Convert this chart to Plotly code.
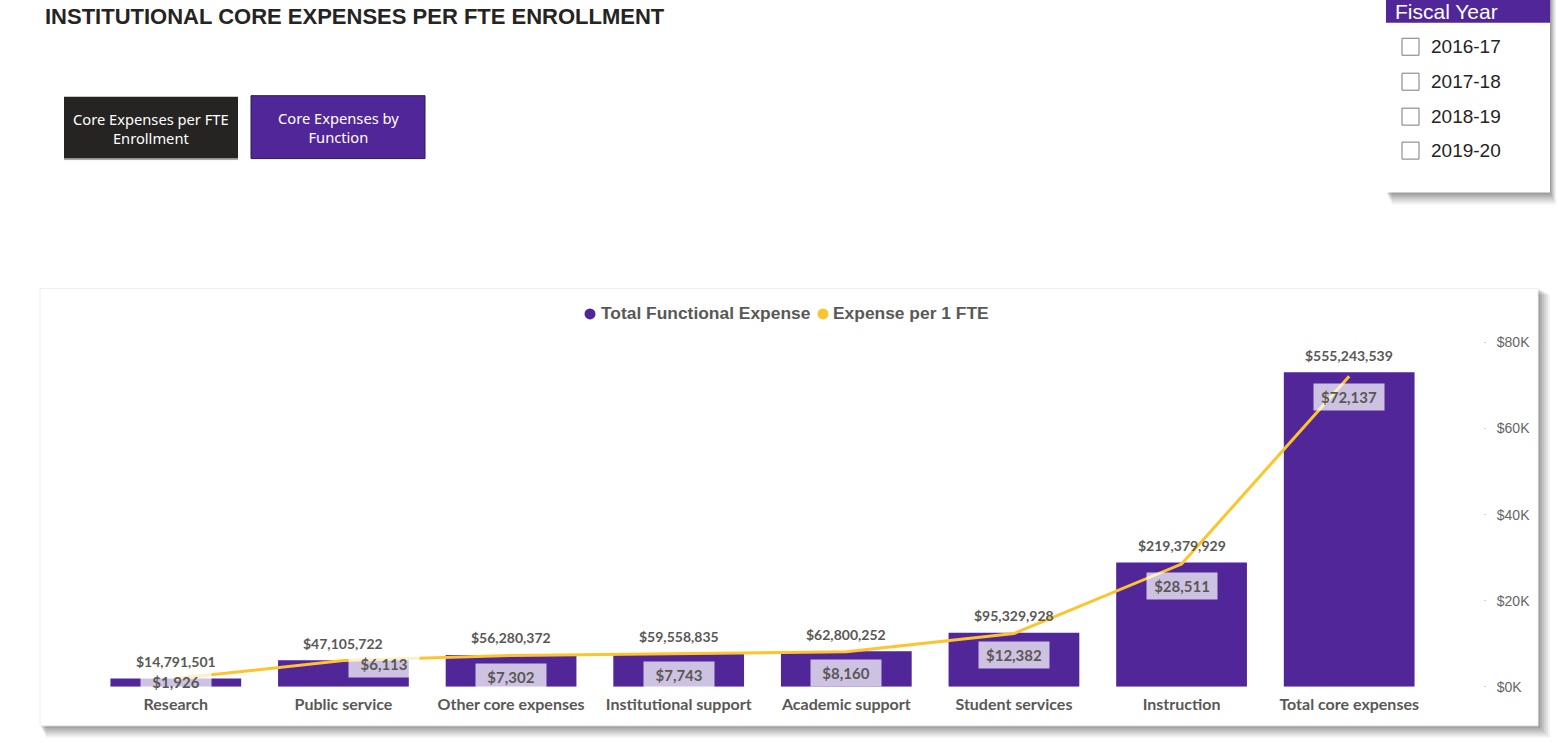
import plotly.graph_objects as go

# ---------------- data ----------------
categories = ["Research", "Public service", "Other core expenses", "Institutional support",
              "Academic support", "Student services", "Instruction", "Total core expenses"]
total_expense = [14791501, 47105722, 56280372, 59558835, 62800252, 95329928, 219379929, 555243539]
expense_per_fte = [1926, 6113, 7302, 7743, 8160, 12382, 28511, 72137]
y2_tick_vals = [0, 20000, 40000, 60000, 80000]
y2_tick_text = ["$0K", "$20K", "$40K", "$60K", "$80K"]
fiscal_years = ["2016-17", "2017-18", "2018-19", "2019-20"]
series_names = ["Total Functional Expense", "Expense per 1 FTE"]

# ---------------- style ----------------
W, H = 1558, 743
PURPLE = "#512698"
YELLOW = "#FEC42D"
TXT = "#5A5856"
VS = 0.9798      # vertical scale observed in the rendered page
VOFF = 7.2       # vertical offset observed in the rendered page
def px(x): return x / W
def py(y): return 1 - ((y - VOFF) / VS) / H
def sh(d): return d / VS

fig = go.Figure()

fig.add_trace(go.Bar(x=categories, y=total_expense, marker=dict(color=PURPLE, line=dict(width=0)),
                     name=series_names[0], showlegend=False, yaxis="y", hoverinfo="skip"))
fig.add_trace(go.Scatter(x=categories, y=expense_per_fte, mode="lines", line=dict(color=YELLOW, width=3),
                         name=series_names[1], showlegend=False, yaxis="y2", hoverinfo="skip"))

annotations = []
# total labels above bars
for c, v in zip(categories, total_expense):
    annotations.append(dict(x=c, y=v, xref="x", yref="y", text=f"${v:,.0f}", showarrow=False,
                            yanchor="bottom", yshift=sh(6.5),
                            font=dict(family="Lato", size=14, color=TXT, weight="bold")))
# per-FTE labels (boxes)
fte_shift = [(0, -3), (41, -3), (0, -21), (0, -21), (0, -21), (0, -21), (0, -21), (0, -20)]
for c, v, (dx, dy) in zip(categories, expense_per_fte, fte_shift):
    annotations.append(dict(x=c, y=v, xref="x", yref="y2", text=f"${v:,.0f}", showarrow=False,
                            yanchor="middle", xshift=dx, yshift=sh(dy),
                            bgcolor="rgba(255,255,255,0.72)", borderpad=4, width=62,
                            font=dict(family="Lato", size=15, color=TXT, weight="bold")))

# legend (dots + text)
legend_font = dict(family="Liberation Sans", size=17.4, color=TXT, weight="bold")
annotations.append(dict(x=px(599), y=py(313), xref="paper", yref="paper", xanchor="left", yanchor="middle",
                        text=series_names[0], showarrow=False, font=legend_font))
annotations.append(dict(x=px(831), y=py(313), xref="paper", yref="paper", xanchor="left", yanchor="middle",
                        text=series_names[1], showarrow=False, font=legend_font))

# title
annotations.append(dict(x=px(43), y=py(16), xref="paper", yref="paper", xanchor="left", yanchor="middle",
                        text="<b>INSTITUTIONAL CORE EXPENSES PER FTE ENROLLMENT</b>", showarrow=False,
                        font=dict(family="Liberation Sans", size=22, color="#252423")))
# buttons
annotations.append(dict(x=px(151), y=py(128), xref="paper", yref="paper", xanchor="center", yanchor="middle",
                        text="Core Expenses per FTE<br>Enrollment",
                        showarrow=False, font=dict(family="Noto Sans", size=14.7, color="white")))
annotations.append(dict(x=px(338), y=py(127), xref="paper", yref="paper", xanchor="center", yanchor="middle",
                        text="Core Expenses by<br>Function",
                        showarrow=False, font=dict(family="Noto Sans", size=14.7, color="white")))
# fiscal year slicer
annotations.append(dict(x=px(1393), y=py(11), xref="paper", yref="paper", xanchor="left", yanchor="middle",
                        text="Fiscal Year", showarrow=False,
                        font=dict(family="Liberation Sans", size=21, color="white")))
rows_y = [46, 81, 116, 150]
for fy, ry in zip(fiscal_years, rows_y):
    annotations.append(dict(x=px(1429), y=py(ry), xref="paper", yref="paper", xanchor="left", yanchor="middle",
                            text=fy, showarrow=False,
                            font=dict(family="Liberation Sans", size=19, color="#252423")))

shapes = []
# card shadow
for i, op in enumerate([0.05, 0.06, 0.07, 0.08, 0.09, 0.10]):
    off = 12 - 2 * i
    shapes.append(dict(type="rect", xref="paper", yref="paper", layer="below",
                       x0=px(40 + off / 2), x1=px(1538 + off), y0=py(288 + off / 2), y1=py(726 + off),
                       fillcolor=f"rgba(0,0,0,{op})", line=dict(width=0)))
shapes.append(dict(type="rect", xref="paper", yref="paper", layer="below",
                   x0=px(40), x1=px(1538), y0=py(288), y1=py(726),
                   fillcolor="white", line=dict(color="#EEEEEE", width=1)))
# legend dots
for cx, col in [(590, PURPLE), (823, YELLOW)]:
    shapes.append(dict(type="circle", xref="paper", yref="paper", layer="above",
                       x0=px(cx - 5.5), x1=px(cx + 5.5), y0=py(313.5 - 5.5), y1=py(313.5 + 5.5),
                       fillcolor=col, line=dict(width=0)))
# slicer shadow + box
for i, op in enumerate([0.05, 0.06, 0.07, 0.08, 0.09, 0.10]):
    off = 12 - 2 * i
    shapes.append(dict(type="rect", xref="paper", yref="paper", layer="below",
                       x0=px(1386 + off / 2), x1=px(1550 + off / 2), y0=py(-10), y1=py(192 + off),
                       fillcolor=f"rgba(0,0,0,{op})", line=dict(width=0)))
shapes.append(dict(type="rect", xref="paper", yref="paper", layer="below",
                   x0=px(1386), x1=px(1550), y0=py(-10), y1=py(192), fillcolor="white", line=dict(width=0)))
shapes.append(dict(type="rect", xref="paper", yref="paper", layer="below",
                   x0=px(1386), x1=px(1550), y0=py(-10), y1=py(22), fillcolor=PURPLE, line=dict(width=0)))
for ry in rows_y:
    shapes.append(dict(type="rect", xref="paper", yref="paper", layer="below",
                       x0=px(1402), x1=px(1419), y0=py(ry - 8.5), y1=py(ry + 8.5),
                       fillcolor="white", line=dict(color="#7A7A7A", width=1)))
# buttons
shapes.append(dict(type="rect", xref="paper", yref="paper", layer="below",
                   x0=px(64), x1=px(238), y0=py(96), y1=py(158),
                   fillcolor="#252423", line=dict(width=0)))
shapes.append(dict(type="line", xref="paper", yref="paper", layer="below",
                   x0=px(64), x1=px(238), y0=py(159), y1=py(159),
                   line=dict(color="#A0A0A8", width=1)))
shapes.append(dict(type="rect", xref="paper", yref="paper", layer="below",
                   x0=px(251), x1=px(425), y0=py(95), y1=py(158),
                   fillcolor=PURPLE, line=dict(color="#2A1A4A", width=1)))

y_top_px, y_bot_px = 342, 687
bar_px_per_unit = 315 / 555243539
y1_max = (y_bot_px - y_top_px) / bar_px_per_unit

fig.update_layout(
    width=W, height=H,
    margin=dict(l=0, r=0, t=0, b=0),
    paper_bgcolor="white", plot_bgcolor="rgba(0,0,0,0)",
    bargap=0.22,
    showlegend=False,
    xaxis=dict(domain=[px(92), px(1433)], showgrid=False, zeroline=False, showline=False,
               tickfont=dict(family="Lato", size=16, color=TXT, weight="bold"), ticks="",
               ticklabelstandoff=6, fixedrange=True),
    yaxis=dict(domain=[py(y_bot_px), py(y_top_px)], range=[0, y1_max], visible=False, fixedrange=True),
    yaxis2=dict(overlaying="y", side="right", anchor="free", position=px(1483), range=[0, 80000],
                tickvals=y2_tick_vals, ticktext=y2_tick_text, showgrid=False, zeroline=False, showline=False,
                ticks="outside", ticklen=2, tickcolor="#D0D0D0", ticklabelstandoff=8,
                tickfont=dict(family="Liberation Sans", size=14, color="#666666"), fixedrange=True),
    annotations=annotations,
    shapes=shapes,
)

page_fix = ("document.documentElement.style.margin='0px';document.body.style.margin='0px';"
            "document.body.style.padding='0px';document.body.style.overflow='hidden';")
fig.write_html("out.html", config={"displayModeBar": False}, post_script=page_fix)
